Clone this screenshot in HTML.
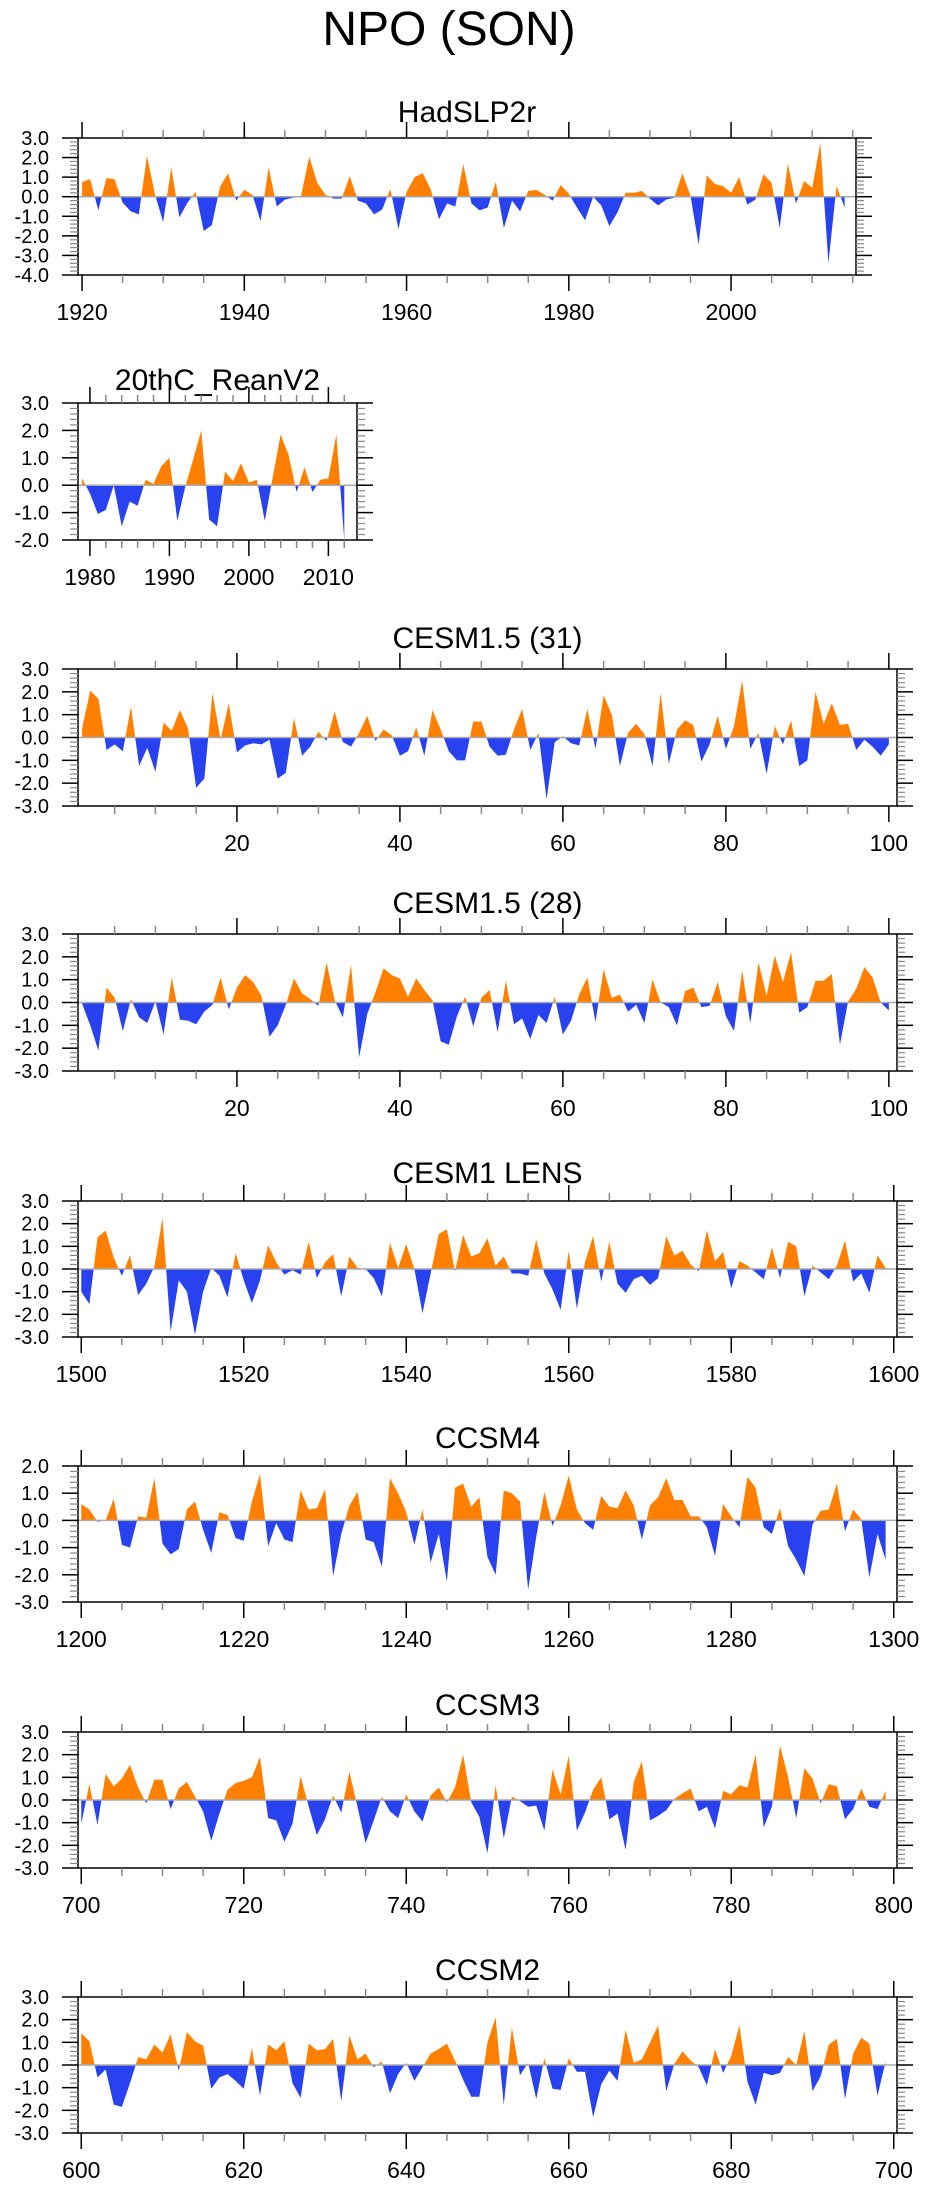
<!DOCTYPE html>
<html><head><meta charset="utf-8">
<style>
html,body{margin:0;padding:0;background:#fff;}
svg{display:block;}
text{font-family:"Liberation Sans",sans-serif;fill:#000;}
</style></head>
<body>
<svg id="fig" width="925" height="2191" viewBox="0 0 925 2191" xmlns="http://www.w3.org/2000/svg">
<text x="449" y="45" font-size="48" text-anchor="middle">NPO (SON)</text>
</svg>
<script>
const hadslpValues=[0.75,0.9,-0.7,0.95,0.9,-0.3,-0.75,-0.9,2.1,0.1,-1.3,1.5,-1.05,-0.3,0.25,-1.75,-1.45,0.5,1.2,-0.2,0.35,0.1,-1.25,1.5,-0.5,-0.15,-0.05,0.05,2.05,0.7,0.1,-0.1,-0.1,1.05,-0.2,-0.35,-0.9,-0.65,0.4,-1.65,0.25,1.0,1.2,0.35,-1.15,-0.35,-0.5,1.65,-0.35,-0.7,-0.55,0.75,-1.6,-0.2,-0.75,0.3,0.35,0.1,-0.2,0.6,0.15,-0.55,-1.2,0.0,-0.45,-1.5,-0.8,0.2,0.2,0.3,-0.1,-0.45,-0.15,-0.05,1.2,0.05,-2.45,1.1,0.65,0.55,0.2,1.0,-0.4,-0.15,1.15,0.7,-1.6,1.7,-0.35,0.8,0.45,2.75,-3.4,0.55,-0.55];
const reanValues=[0.25,-0.3,-1.05,-0.9,0.0,-1.5,-0.6,-0.75,0.2,0.05,0.7,1.0,-1.3,-0.05,0.95,2.0,-1.25,-1.5,0.5,0.15,0.8,0.1,0.2,-1.3,0.3,1.85,1.1,-0.25,0.65,-0.25,0.2,0.25,1.85,-2.0];
const cesm31Values=[0.4,2.05,1.7,-0.55,-0.3,-0.6,1.35,-1.25,-0.45,-1.5,0.65,0.3,1.2,0.4,-2.2,-1.8,1.95,-0.1,1.5,-0.65,-0.35,-0.25,-0.3,-0.1,-1.8,-1.55,0.85,-0.8,-0.4,0.25,-0.15,1.15,-0.2,-0.4,0.2,0.95,-0.15,0.35,0.1,-0.8,-0.6,0.45,-0.8,1.2,0.35,-0.6,-1.0,-1.0,0.7,0.7,-0.4,-0.8,-0.75,0.35,1.25,-0.55,0.2,-2.7,-0.2,0.05,-0.25,-0.35,1.25,-0.5,1.85,1.0,-1.25,0.2,0.6,0.15,-1.25,1.95,-1.15,0.35,0.75,0.55,-1.05,-0.3,0.95,-0.5,0.5,2.5,-0.5,0.2,-1.6,0.5,-0.3,0.75,-1.25,-1.0,2.0,0.6,1.5,0.55,0.6,-0.55,-0.1,-0.4,-0.8,-0.3];
const cesm28Values=[-0.05,-1.0,-2.1,0.65,0.2,-1.25,0.15,-0.65,-0.9,0.05,-1.4,1.1,-0.75,-0.8,-0.95,-0.4,-0.1,1.1,-0.3,0.65,1.2,0.9,0.3,-1.5,-1.0,-0.1,1.05,0.4,0.15,-0.15,1.75,0.1,-0.65,1.65,-2.4,-0.5,0.45,1.5,1.2,1.05,0.25,1.05,0.55,0.1,-1.7,-1.85,-0.6,0.25,-1.05,0.2,0.55,-1.3,0.95,-0.95,-0.7,-1.6,-0.55,-0.9,0.25,-1.4,-0.8,0.35,1.1,-0.85,1.45,0.2,0.35,-0.4,-0.1,-0.9,1.0,0.0,-0.2,-1.0,0.5,0.65,-0.2,-0.15,0.9,-0.6,-1.25,1.4,-0.9,1.75,0.3,2.05,0.9,2.2,-0.45,-0.2,0.95,0.95,1.25,-1.85,0.05,0.6,1.55,1.1,0.0,-0.35];
const lensValues=[-1.0,-1.55,1.4,1.7,0.5,-0.3,0.6,-1.15,-0.65,0.1,2.25,-2.75,-0.5,-1.0,-2.9,-1.0,0.05,-0.3,-1.25,0.7,-0.5,-1.5,-0.5,1.05,0.3,-0.25,-0.05,-0.25,1.2,-0.4,0.3,0.65,-1.2,0.55,0.05,0.0,-0.4,-1.2,1.15,0.05,1.1,0.0,-1.95,-0.2,1.55,1.75,-0.1,1.5,0.55,0.7,1.35,0.15,0.55,-0.2,-0.2,-0.3,1.3,-0.2,-0.9,-1.8,0.8,-1.75,0.3,1.45,-0.55,1.2,-0.65,-1.05,-0.45,-0.3,-0.7,-0.4,1.45,0.6,0.8,0.2,-0.1,1.7,0.35,0.75,-0.85,0.35,0.15,-0.15,-0.45,0.95,-0.4,1.2,1.0,-1.2,0.15,-0.15,-0.45,0.15,1.25,-0.55,-0.2,-1.05,0.6,0.05];
const ccsm4Values=[0.6,0.4,-0.05,0.0,0.8,-0.9,-1.0,0.15,0.1,1.55,-0.85,-1.25,-1.05,0.4,0.7,-0.35,-1.2,0.3,0.2,-0.65,-0.75,0.7,1.7,-0.95,-0.1,-0.7,-0.8,1.1,0.4,0.45,1.15,-2.05,-0.5,0.55,1.05,-0.7,-0.8,-1.7,1.55,1.0,0.3,-0.9,0.4,-1.55,-0.5,-2.25,1.2,1.35,0.5,0.85,-1.35,-2.0,1.1,1.0,0.7,-2.55,-0.6,1.05,-0.2,0.55,1.65,0.4,-0.1,-0.35,0.9,0.5,0.45,1.1,0.55,-0.7,0.55,0.85,1.55,0.75,0.75,0.15,0.15,-0.25,-1.3,0.6,0.15,-0.25,1.6,1.2,-0.25,-0.5,0.45,-0.95,-1.45,-2.05,-0.15,0.35,0.4,1.35,-0.4,0.4,0.05,-2.1,-0.5,-1.45];
const ccsm3Values=[-1.05,0.7,-1.1,1.15,0.6,0.95,1.55,0.55,-0.15,0.9,0.9,-0.4,0.5,0.8,0.15,-0.5,-1.8,-0.6,0.45,0.75,0.85,1.0,1.9,-0.8,-0.9,-1.85,-1.05,1.05,-0.3,-1.55,-0.85,0.2,-0.55,1.25,-0.3,-1.9,-0.9,0.15,-0.5,-0.8,0.25,-0.5,-0.95,0.2,0.55,-0.1,0.55,2.0,-0.1,-0.75,-2.35,0.65,-1.7,0.15,-0.05,-0.3,-0.25,-1.35,1.35,0.25,1.95,-1.35,-0.55,0.45,1.0,-0.85,-0.6,-2.2,0.8,1.7,-0.9,-0.7,-0.45,0.05,0.3,0.5,-0.5,-0.3,-1.25,0.4,0.25,0.65,0.55,2.0,-1.2,-0.3,2.4,1.0,-0.8,1.4,0.95,-0.15,0.7,0.6,-0.85,-0.4,0.5,-0.3,-0.4,0.4];
const ccsm2Values=[1.4,1.05,-0.55,-0.2,-1.75,-1.85,-0.8,0.35,0.25,0.9,0.55,1.35,-0.25,1.45,1.05,0.85,-1.05,-0.55,-0.4,-0.7,-1.05,0.75,-1.35,0.9,0.65,1.05,-0.8,-1.45,0.95,0.65,0.7,1.15,-1.6,1.3,0.25,0.5,-0.1,0.15,-1.25,-0.4,0.1,-0.7,-0.1,0.5,0.7,0.95,0.2,-0.65,-1.4,-1.4,1.0,2.1,-1.75,1.65,-0.45,0.1,-1.5,0.3,-1.05,-1.1,0.3,-0.3,-0.3,-2.3,-0.85,-0.25,-0.7,1.55,0.1,0.25,1.0,1.75,-1.15,0.05,0.6,0.2,-0.1,-0.9,0.7,-0.35,0.4,1.75,-0.75,-1.75,-0.35,-0.45,-0.35,0.35,0.0,1.5,-1.15,-0.5,0.9,1.15,-1.5,0.5,1.2,0.95,-1.35,0.15];
const panelTitles=["HadSLP2r","20thC_ReanV2","CESM1.5 (31)","CESM1.5 (28)","CESM1 LENS","CCSM4","CCSM3","CCSM2"];
const startYears=[1920,1979,1,1,1500,1200,700,600];
const xTickLabels=[[1920,1940,1960,1980,2000],[1980,1990,2000,2010],[20,40,60,80,100],[20,40,60,80,100],[1500,1520,1540,1560,1580,1600],[1200,1220,1240,1260,1280,1300],[700,720,740,760,780,800],[600,620,640,660,680,700]];
const yTickLabels=[[3,2,1,0,-1,-2,-3,-4],[3,2,1,0,-1,-2],[3,2,1,0,-1,-2,-3],[3,2,1,0,-1,-2,-3],[3,2,1,0,-1,-2,-3],[2,1,0,-1,-2,-3],[3,2,1,0,-1,-2,-3],[3,2,1,0,-1,-2,-3]];
const seriesList=[hadslpValues,reanValues,cesm31Values,cesm28Values,lensValues,ccsm4Values,ccsm3Values,ccsm2Values];

// layout (not data)
const layout=[
 {l:78,r:856,t:138,b:275,xmin:1919.5,xmax:2015.4,minorStep:5,majorStep:20,titleDy:16},
 {l:78,r:357,t:403,b:540,xmin:1978.5,xmax:2013.6,minorStep:2,majorStep:10,titleDy:13},
 {l:78,r:897,t:669,b:806,xmin:0.5,xmax:101,minorStep:5,majorStep:20,titleDy:21},
 {l:78,r:897,t:934,b:1071,xmin:0.5,xmax:101,minorStep:5,majorStep:20,titleDy:21},
 {l:78,r:897,t:1201,b:1337,off:0.4,minorStep:5,majorStep:20,titleDy:18},
 {l:78,r:897,t:1466,b:1602,off:0.4,minorStep:5,majorStep:20,titleDy:18},
 {l:78,r:897,t:1732,b:1868,off:0.4,minorStep:5,majorStep:20,titleDy:17},
 {l:78,r:897,t:1997,b:2133,off:0.4,minorStep:5,majorStep:20,titleDy:17}
];
const NS="http://www.w3.org/2000/svg";
const svg=document.getElementById('fig');
function mk(tag,attrs,parent){const e=document.createElementNS(NS,tag);for(const k in attrs)e.setAttribute(k,attrs[k]);(parent||svg).appendChild(e);return e;}
const defs=mk('defs',{});
seriesList.forEach((vals,i)=>{
  const L=layout[i];const s=startYears[i];
  let xmin=L.xmin,xmax=L.xmax;
  if(L.off!==undefined){xmin=s-L.off;xmax=s+100+L.off;}
  const yl=yTickLabels[i];const ymax=yl[0],ymin=yl[yl.length-1];
  const X=v=>L.l+(v-xmin)/(xmax-xmin)*(L.r-L.l);
  const Y=v=>L.t+(ymax-v)/(ymax-ymin)*(L.b-L.t);
  const g=mk('g',{});
  
  
  const t=mk('text',{x:(L.l+L.r)/2,y:L.t-L.titleDy,'font-size':30,'text-anchor':'middle'},g);
  t.textContent=panelTitles[i];
  
  
  const y0=Y(0);
  const cu=mk('clipPath',{id:'cu'+i},defs);mk('rect',{x:L.l,y:L.t,width:L.r-L.l,height:y0-L.t},cu);
  const cd=mk('clipPath',{id:'cd'+i},defs);mk('rect',{x:L.l,y:y0,width:L.r-L.l,height:L.b-y0},cd);
  let d='M'+X(s)+','+y0;
  vals.forEach((v,k)=>{d+=' L'+X(s+k).toFixed(2)+','+Y(v).toFixed(2);});
  d+=' L'+X(s+vals.length-1)+','+y0+' Z';
  const pu=mk('path',{d:d,fill:'#ff8000','clip-path':'url(#cu'+i+')'},g);
  
  
  const pd=mk('path',{d:d,fill:'#2742ee','clip-path':'url(#cd'+i+')'},g);
  
  
  const zl=mk('line',{x1:L.l,x2:L.r,y1:y0,y2:y0,stroke:'#aaa','stroke-width':1.5},g);
  
  
  const fr=mk('rect',{x:L.l,y:L.t,width:L.r-L.l,height:L.b-L.t,fill:'none',stroke:'#000','stroke-width':1.5},g);
  
  
  for(let v=ymin;v<=ymax+1e-6;v+=0.2){
    const yy=Y(v);const major=Math.abs(v-Math.round(v))<1e-6;const len=major?16:8;
    const col=major?'#000':'#888';
    mk('line',{x1:L.l-len,x2:L.l,y1:yy,y2:yy,stroke:col,'stroke-width':major?1.5:1.2},g);
    mk('line',{x1:L.r,x2:L.r+len,y1:yy,y2:yy,stroke:col,'stroke-width':major?1.5:1.2},g);
  }
  yl.forEach(v=>{
    const tx=mk('text',{x:49,y:Y(v)+7,'font-size':20,'text-anchor':'end'},g);
    tx.textContent=v.toFixed(1);
    
    
  });
  const xs=Math.ceil(xmin/L.minorStep)*L.minorStep;
  for(let v=xs;v<=xmax;v+=L.minorStep){
    const xx=X(v);const major=(v%L.majorStep)===0;const len=major?16:8;const col=major?'#000':'#888';
    mk('line',{x1:xx,x2:xx,y1:L.t-len,y2:L.t,stroke:col,'stroke-width':1.5},g);
    mk('line',{x1:xx,x2:xx,y1:L.b,y2:L.b+len,stroke:col,'stroke-width':1.5},g);
  }
  xTickLabels[i].forEach(v=>{
    const tx=mk('text',{x:X(v),y:L.b+45,'font-size':23,'text-anchor':'middle'},g);
    tx.textContent=String(v);
    
    
  });
});
</script>
</body></html>
